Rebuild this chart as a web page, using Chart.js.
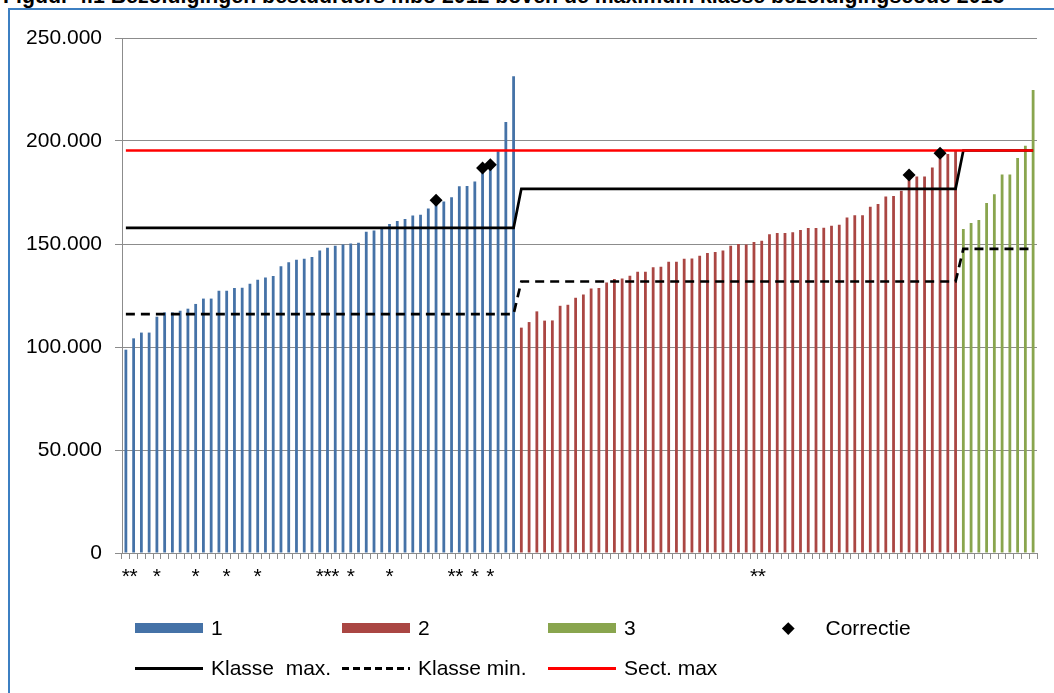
<!DOCTYPE html>
<html>
<head>
<meta charset="utf-8">
<script src="https://cdn.jsdelivr.net/npm/chart.js@4"></script>
<style>
  body { margin: 0; background: #fff; font-family: "Liberation Sans", Arial, sans-serif; }
  #wrap { position: relative; width: 1054px; height: 693px; overflow: hidden; }
  #title { position: absolute; left: 3px; top: -14px; font-size: 21.3px; line-height: 21px; font-weight: bold; white-space: nowrap; color: #000; }
  #frame { position: absolute; left: 8px; top: 8px; width: 1100px; height: 800px; border: 2px solid #3c7fc2; }
  #chart { position: absolute; left: 0; top: 0; }
  .item { position: absolute; height: 21px; display: flex; align-items: center; font-size: 21px; white-space: pre; color: #000; }
  .sw { width: 68px; margin-right: 8px; }
</style>
</head>
<body>
<div id="wrap">
  <div id="frame"></div>
  <div id="title">Figuur 4.1 Bezoldigingen bestuurders mbo 2012 boven de maximum klasse bezoldigingscode 2013</div>
  <canvas id="chart" width="1054" height="693"></canvas>
  <div id="legend"></div>
</div>
<script>
// bezoldiging per bestuurder, gesorteerd per klasse
const blauw = [98700, 104200, 107000, 107000, 114700, 116800, 116800, 117600, 118600, 120900,
  123500, 123500, 127300, 127300, 128600, 128800, 130700, 132700, 133700, 134500,
  139200, 141100, 142400, 142900, 143700, 146900, 148200, 149200, 149700, 150200,
  150600, 156000, 156500, 157400, 159700, 161200, 162100, 163800, 164200, 167200,
  169900, 170600, 172700, 178000, 178200, 180300, 184500, 186900, 195000, 209200, 231400];
const rood = [109400, 112100, 117300, 112800, 112900, 120000, 120500, 123900, 125500, 128400,
  128600, 131300, 133000, 133300, 134600, 136500, 136500, 138700, 139000, 141400,
  141400, 142900, 143000, 144300, 145600, 146100, 146800, 149200, 150000, 149800,
  151000, 151600, 154700, 155300, 155300, 155700, 156800, 157800, 157800, 157900,
  158900, 159400, 162900, 163900, 163900, 168100, 169400, 173100, 173300, 175900,
  181100, 182800, 182800, 187100, 191600, 193700, 195100];
const groen = [157300, 160200, 161700, 169900, 174100, 183700, 183700, 191700, 197700, 224800];

// klassegrenzen per groep (1, 2, 3) en sectormaximum
const klasseMax = [157800, 176800, 195400];
const klasseMin = [116000, 131800, 147600];
const sectMax = 195400;

// correcties: categorienummer en waarde
const correctieNr = [41, 47, 48, 102, 106];
const correctieWaarde = [171200, 186900, 188500, 183500, 194000];

// categorieen met een sterretje
const sterren = [1, 2, 5, 10, 14, 18, 26, 27, 28, 30, 35, 43, 44, 46, 48, 82, 83];

const groepen = [blauw, rood, groen];
const n = blauw.length + rood.length + groen.length;
const labels = [];
for (let i = 1; i <= n; i++) labels.push(sterren.includes(i) ? '*' : '');

function perGroep(vals) {
  let out = [];
  groepen.forEach((g, gi) => g.forEach(() => out.push(vals[gi])));
  return out;
}
function alleenGroep(gi) {
  let out = [];
  groepen.forEach((g, k) => g.forEach((v) => out.push(k == gi ? v : null)));
  return out;
}
const correctie = labels.map((l, i) => {
  const k = correctieNr.indexOf(i + 1);
  return k >= 0 ? correctieWaarde[k] : null;
});

const kleuren = ['#4572a7', '#aa4643', '#89a54e'];
const font = { family: '"Liberation Sans", Arial, sans-serif', size: 21 };

const barSet = (label, gi) => ({
  type: 'bar', label: label, data: alleenGroep(gi),
  backgroundColor: kleuren[gi], grouped: false,
  barPercentage: 0.36, categoryPercentage: 1, order: 10
});

const mainChart = new Chart(document.getElementById('chart'), {
  type: 'bar',
  data: {
    labels: labels,
    datasets: [
      barSet('1', 0), barSet('2', 1), barSet('3', 2),
      { type: 'line', label: 'Correctie', data: correctie, showLine: false,
        pointStyle: 'rectRot', pointRadius: 6.5, pointBackgroundColor: '#000',
        pointBorderWidth: 0, order: 1 },
      { type: 'line', label: 'Klasse  max.', data: perGroep(klasseMax), borderColor: '#000',
        borderWidth: 2.7, pointRadius: 0, tension: 0, order: 5 },
      { type: 'line', label: 'Klasse min.', data: perGroep(klasseMin), borderColor: '#000',
        borderWidth: 2.7, borderDash: [9, 6], pointRadius: 0, tension: 0, order: 4 },
      { type: 'line', label: 'Sect. max', data: labels.map(() => sectMax), borderColor: '#ff0000',
        borderWidth: 2.7, pointRadius: 0, tension: 0, order: 3 }
    ]
  },
  options: {
    responsive: false,
    animation: false,
    layout: { padding: { left: 0, right: 17, top: 38, bottom: 100 } },
    plugins: { legend: { display: false }, tooltip: { enabled: false } },
    scales: {
      x: {
        offset: true,
        grid: { offset: true, drawOnChartArea: false, color: '#8c8c8c', tickLength: 6 },
        border: { color: '#8c8c8c', width: 1 },
        ticks: { autoSkip: false, maxRotation: 0, minRotation: 0, color: '#000', font: font, padding: 6 },
        afterFit: (s) => { s.height = 40; }
      },
      y: {
        min: 0, max: 250000,
        grid: { color: '#8c8c8c', tickLength: 7 },
        border: { color: '#8c8c8c', width: 1 },
        ticks: {
          stepSize: 50000, color: '#000', font: font, padding: 13,
          callback: (v) => String(v).replace(/\B(?=(\d{3})+(?!\d))/g, '.')
        },
        afterFit: (s) => { s.width = 122; }
      }
    }
  }
});

// legenda in twee rijen, zoals in het origineel
const legend = document.getElementById('legend');
const ds = mainChart.data.datasets;
const plek = [
  [ds[0], 135, 628, 'box'], [ds[1], 342, 628, 'box'], [ds[2], 548, 628, 'box'],
  [ds[3], 784, 628, 'dot'],
  [ds[4], 135, 668, 'line'], [ds[5], 342, 668, 'dash'], [ds[6], 548, 668, 'line']
];
plek.forEach(([d, x, y, soort]) => {
  const el = document.createElement('div');
  el.className = 'item';
  el.style.left = x + 'px';
  el.style.top = (y - 10.5) + 'px';
  let sw;
  if (soort == 'box') {
    sw = `<div class="sw" style="height:10px;background:${d.backgroundColor}"></div>`;
  } else if (soort == 'line') {
    sw = `<div class="sw" style="height:3px;background:${d.borderColor}"></div>`;
  } else if (soort == 'dash') {
    sw = `<div class="sw" style="height:3px;background:repeating-linear-gradient(to right,#000 0 7px,transparent 7px 11px)"></div>`;
  } else {
    sw = `<div style="width:8.5px;height:8.5px;background:#000;transform:rotate(45deg);margin:0 33px 0 0"></div>`;
  }
  el.innerHTML = sw + `<span>${d.label}</span>`;
  legend.appendChild(el);
});
</script>
</body>
</html>
